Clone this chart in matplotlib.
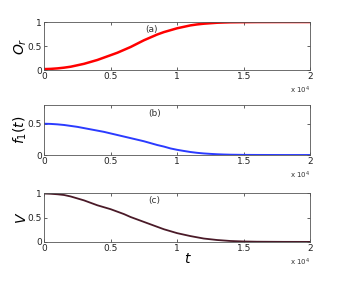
"""Three stacked panels: O_r, f_1(t) and V against t"""

import numpy as np
import matplotlib.pyplot as plt

# Values (t in units of 1e4)
t = [0.0, 0.05, 0.1, 0.15, 0.2, 0.25, 0.3, 0.35, 0.4, 0.45, 0.5, 0.55, 0.6,
     0.65, 0.7, 0.75, 0.8, 0.85, 0.9, 0.95, 1.0, 1.05, 1.1, 1.15, 1.2, 1.25,
     1.3, 1.35, 1.4, 1.5, 1.6, 1.8, 2.0]
o_r = [0.02, 0.025, 0.035, 0.05, 0.07, 0.10, 0.13, 0.17, 0.21, 0.26, 0.31,
       0.36, 0.42, 0.48, 0.55, 0.62, 0.68, 0.74, 0.79, 0.83, 0.87, 0.90,
       0.93, 0.95, 0.965, 0.975, 0.985, 0.99, 0.994, 0.997, 0.999, 1.0, 1.0]
f1 = [0.50, 0.497, 0.49, 0.48, 0.465, 0.45, 0.43, 0.41, 0.39, 0.37, 0.345,
      0.32, 0.295, 0.27, 0.245, 0.22, 0.19, 0.16, 0.135, 0.105, 0.083,
      0.065, 0.048, 0.035, 0.025, 0.018, 0.012, 0.008, 0.005, 0.002, 0.001,
      0.0, 0.0]
v = [0.99, 0.985, 0.975, 0.96, 0.93, 0.89, 0.85, 0.80, 0.75, 0.71, 0.67,
     0.62, 0.57, 0.51, 0.46, 0.41, 0.36, 0.31, 0.26, 0.22, 0.18, 0.15, 0.12,
     0.095, 0.07, 0.055, 0.04, 0.03, 0.02, 0.01, 0.005, 0.002, 0.001]

t = np.array(t) * 1e4
ylabels = ['$O_r$', '$f_1(t)$', '$V$']
tags = ['(a)', '(b)', '(c)']
tag_pos = [(0.81e4, 0.85), (0.83e4, 0.67), (0.83e4, 0.85)]
ylims = [(0, 1), (0, 0.8), (0, 1)]
colors = ['#ff0000', '#2b3bff', '#4a1a28']
widths = [1.8, 1.4, 1.3]
series = [o_r, f1, v]

fig = plt.figure(figsize=(3.42, 2.86), dpi=100)
boxes = [[0.129, 0.755, 0.778, 0.168],
         [0.129, 0.458, 0.778, 0.175],
         [0.129, 0.154, 0.778, 0.171]]

for i in range(3):
    ax = fig.add_axes(boxes[i])
    ax.plot(t, series[i], color=colors[i], lw=widths[i])
    ax.set_xlim(0, 2e4)
    ax.set_ylim(*ylims[i])
    ax.set_xticks([0, 0.5e4, 1e4, 1.5e4, 2e4])
    ax.set_xticklabels(['0', '0.5', '1', '1.5', '2'])
    ax.set_yticks([0, 0.5] if i == 1 else [0, 0.5, 1])
    ax.set_yticklabels(['0', '0.5'] if i == 1 else ['0', '0.5', '1'])
    ax.tick_params(direction='in', length=2.5, width=0.5, labelsize=6.5,
                   pad=1.5, top=True, right=True, colors='#222222')
    for s in ax.spines.values():
        s.set_linewidth(0.6)
        s.set_color('#555555')
    ax.set_ylabel(ylabels[i], fontsize=10, labelpad=-1)
    ax.text(tag_pos[i][0], tag_pos[i][1], tags[i], fontsize=6.5,
            ha='center', va='center', color='#333333')
    ax.text(1.0, -0.3, r'x 10$^4$', transform=ax.transAxes, fontsize=5,
            ha='right', va='top', color='#333333')
    if i == 2:
        ax.set_xlabel('$t$', fontsize=10, labelpad=-4)
        ax.xaxis.set_label_coords(0.54, -0.2)

fig.savefig('out.png', dpi=100)
